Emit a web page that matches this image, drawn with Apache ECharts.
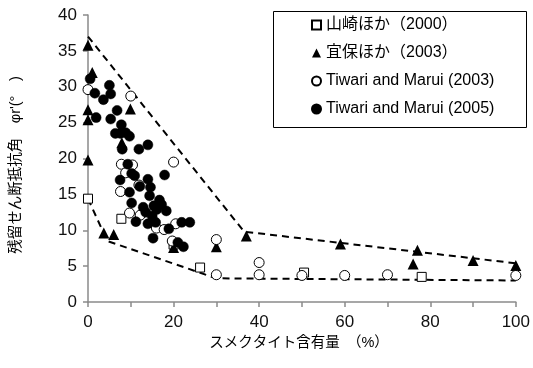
<!DOCTYPE html>
<html><head><meta charset="utf-8">
<script src="https://cdn.jsdelivr.net/npm/echarts@6/dist/echarts.min.js"></script>
<style>html,body{margin:0;padding:0;background:#fff}#c{width:533px;height:368px}</style>
</head><body><div id="c"></div>
<script>
const seriesNames = ['山崎ほか（2000）', '宜保ほか（2003）', 'Tiwari and Marui (2003)', 'Tiwari and Marui (2005)'];
const xTicks = [0, 20, 40, 60, 80, 100];
const yTicks = [0, 5, 10, 15, 20, 25, 30, 35, 40];

const yamazaki2000 = [[0,14.4],[7.8,11.6],[20,8.0],[26.2,4.8],[50.5,4.1],[78,3.5]];
const gibo2003 = [[0,35.8],[1,32],[0,26.8],[0,25.4],[0,19.8],[9.9,26.9],[7.9,22.2],[3.7,9.6],[6,9.4],[20,7.6],[30,7.7],[37,9.2],[59,8.1],[77,7.2],[76,5.3],[90,5.8],[100,5.1]];
const tiwari2003 = [[0,29.6],[10,28.7],[20,19.5],[7.8,19.2],[10.4,19.1],[8.8,18],[11.9,16.3],[7.6,15.4],[9.7,12.4],[12.2,12.1],[16,10.3],[17.8,10.1],[20.5,10.9],[19.7,8.5],[30,8.7],[30,3.8],[40,5.5],[40,3.8],[50,3.7],[60,3.7],[70,3.8],[100,3.7]];
const tiwari2005 = [[0.5,31.1],[1.6,29.1],[5,30.2],[5.3,29],[3.6,28.2],[1.9,25.7],[6.8,26.7],[5.3,25.5],[7.8,24.7],[6.4,23.5],[7.6,23.5],[8.8,23.6],[9.7,23.1],[8,21.3],[11.9,21.3],[14,21.9],[9.3,19.2],[10.2,17.9],[7.5,17],[10.9,17.6],[17.9,17.7],[14,17.1],[12.1,16.1],[9.7,15.3],[14.6,16],[14.4,14.8],[16.7,14.2],[10.2,13.8],[12.9,13.2],[16.1,12.9],[18.3,12.7],[13.5,12.5],[15,12],[11.2,11.2],[14,10.9],[15.8,11.1],[21.9,11.1],[23.8,11.1],[15.2,8.9],[18.9,10.2],[21,8.3],[22.3,7.7],[17.2,13.6],[15.4,13.4]];
const upperEnvelope = [[0,37],[36.5,9.8],[100,5.4]];
const lowerEnvelope = [[0,14.4],[4.5,8.5],[30,3.3],[100,3.0]];

const chart = echarts.init(document.getElementById('c'), null, {renderer:'canvas'});
const FONT = '"Liberation Sans", Arial, "Noto Sans CJK JP", sans-serif';
const JFONT = '"Liberation Sans", Arial, "Noto Sans CJK JP", sans-serif';
const axisGray = '#8a8a8a';
const dashed = {color:'#000', width:2, type:[7,5]};

chart.setOption({
  animation:false,
  textStyle:{fontFamily:FONT},
  grid:{left:88, right:15, top:15, bottom:66},
  xAxis:{type:'value', min:0, max:100, interval:20,
    axisLine:{lineStyle:{color:axisGray, width:1.5}},
    axisTick:{length:5, lineStyle:{color:axisGray, width:1.5}},
    minorTick:{show:true, splitNumber:2, length:5, lineStyle:{color:axisGray, width:1.5}},
    splitLine:{show:false},
    axisLabel:{fontSize:17, color:'#111', margin:12, fontFamily:FONT,
      formatter:v=>xTicks.includes(v)?String(v):''}
  },
  yAxis:{type:'value', min:0, max:40, interval:5,
    axisLine:{show:true, lineStyle:{color:axisGray, width:1.5}},
    axisTick:{show:true, length:5, lineStyle:{color:axisGray, width:1.5}},
    splitLine:{show:false},
    axisLabel:{fontSize:17, color:'#111', margin:11, fontFamily:FONT,
      formatter:v=>yTicks.includes(v)?String(v):''}
  },
  legend:{
    data:seriesNames, orient:'vertical', left:311, top:15, padding:0,
    itemWidth:9, itemHeight:9, itemGap:8,
    textStyle:{fontSize:16, lineHeight:20, color:'#000', fontFamily:JFONT}
  },
  graphic:[
    {type:'rect', shape:{x:273.5, y:11.5, width:253, height:116}, style:{fill:'none', stroke:'#000', lineWidth:1}, z:-1},
    {type:'text', x:16, y:165, rotation:Math.PI/2,
      style:{text:"残留せん断抵抗角　φr'(°　)", fontSize:14.5, fill:'#000', align:'center', verticalAlign:'middle', fontFamily:JFONT}},
    {type:'text', x:299, y:343,
      style:{text:'スメクタイト含有量　（%）', fontSize:14.5, fill:'#000', align:'center', verticalAlign:'middle', fontFamily:JFONT}}
  ],
  series:[
    {type:'line', data:upperEnvelope, symbol:'none', lineStyle:dashed, silent:true, z:1},
    {type:'line', data:lowerEnvelope, symbol:'none', lineStyle:dashed, silent:true, z:1},
    {name:seriesNames[0], type:'scatter', data:yamazaki2000, symbol:'rect', symbolSize:9,
      itemStyle:{color:'#fff', borderColor:'#000', borderWidth:1, opacity:1}, z:2},
    {name:seriesNames[1], type:'scatter', data:gibo2003, symbol:'triangle', symbolSize:11,
      itemStyle:{color:'#000', opacity:1}, z:3},
    {name:seriesNames[2], type:'scatter', data:tiwari2003, symbol:'circle', symbolSize:10,
      itemStyle:{color:'#fff', borderColor:'#000', borderWidth:1, opacity:1}, z:4},
    {name:seriesNames[3], type:'scatter', data:tiwari2005, symbol:'circle', symbolSize:10,
      itemStyle:{color:'#000', borderColor:'#000', borderWidth:0.5, opacity:1}, z:5}
  ]
});
</script></body></html>
